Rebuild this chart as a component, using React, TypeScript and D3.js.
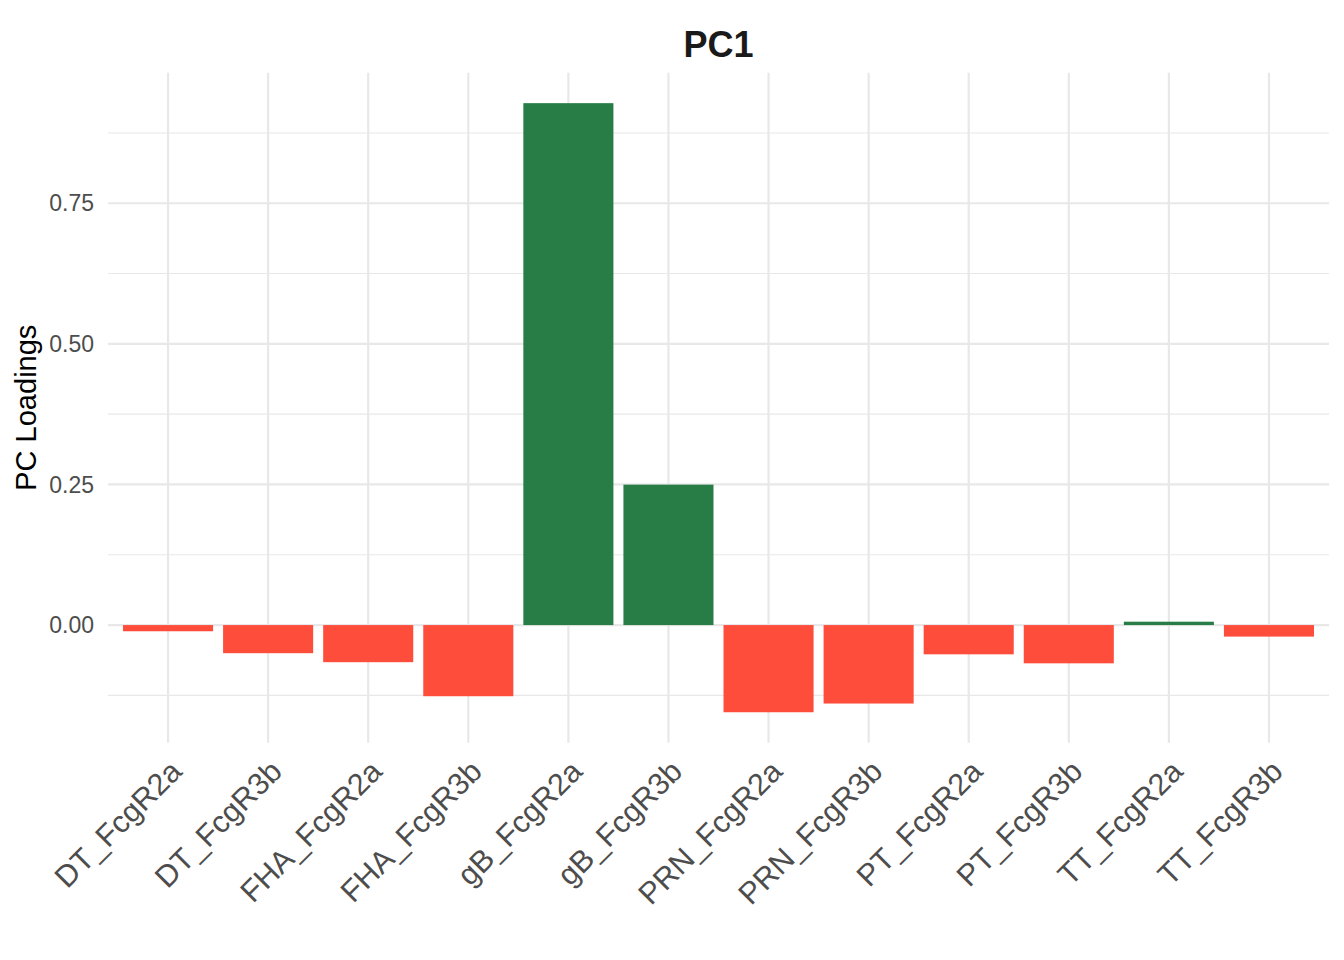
import * as d3 from "d3";
import { useEffect, useRef } from "react";

const categories = [
  "DT_FcgR2a", "DT_FcgR3b", "FHA_FcgR2a", "FHA_FcgR3b", "gB_FcgR2a", "gB_FcgR3b",
  "PRN_FcgR2a", "PRN_FcgR3b", "PT_FcgR2a", "PT_FcgR3b", "TT_FcgR2a", "TT_FcgR3b",
];
const loadings = [-0.011, -0.05, -0.066, -0.1265, 0.928, 0.2497, -0.155, -0.1395, -0.052, -0.068, 0.006, -0.0205];
const majorTicks = [0, 0.25, 0.5, 0.75];
const minorTicks = [-0.125, 0.125, 0.375, 0.625, 0.875];

const width = 1344;
const height = 960;
const margin = { top: 72.7, right: 15, bottom: 217.3, left: 108 };

export default function App() {
  const svgRef = useRef<SVGSVGElement>(null);

  useEffect(() => {
    if (!svgRef.current) return;
    const svg = d3.select(svgRef.current);
    svg.selectAll("*").remove();

    const left = margin.left;
    const right = width - margin.right;
    const top = margin.top;
    const bottom = height - margin.bottom;

    // discrete axis with ggplot-like 0.6 expansion
    const n = categories.length;
    const step = (right - left) / (n - 1 + 1.2);
    const x = (i: number) => left + step * (0.6 + i);
    const barW = step * 0.9;

    const [lo, hi] = d3.extent(loadings) as [number, number];
    const pad = (hi - lo) * 0.05;
    const y = d3.scaleLinear().domain([lo - pad, hi + pad]).range([bottom, top]);

    const g = svg.append("g");

    // grid
    g.selectAll("line.minor")
      .data(minorTicks)
      .enter()
      .append("line")
      .attr("x1", left).attr("x2", right)
      .attr("y1", d => y(d)).attr("y2", d => y(d))
      .attr("stroke", "#e8e8e8").attr("stroke-width", 1.1);
    g.selectAll("line.major")
      .data(majorTicks)
      .enter()
      .append("line")
      .attr("x1", left).attr("x2", right)
      .attr("y1", d => y(d)).attr("y2", d => y(d))
      .attr("stroke", "#e8e8e8").attr("stroke-width", 2.2);
    g.selectAll("line.vert")
      .data(categories)
      .enter()
      .append("line")
      .attr("x1", (_, i) => x(i)).attr("x2", (_, i) => x(i))
      .attr("y1", top).attr("y2", bottom)
      .attr("stroke", "#e8e8e8").attr("stroke-width", 2.2);

    // bars
    g.selectAll("rect")
      .data(loadings)
      .enter()
      .append("rect")
      .attr("x", (_, i) => x(i) - barW / 2)
      .attr("width", barW)
      .attr("y", d => y(Math.max(0, d)))
      .attr("height", d => Math.abs(y(d) - y(0)))
      .attr("fill", d => (d >= 0 ? "#287d47" : "#ff4d3b"));

    // y tick labels
    g.selectAll("text.ytick")
      .data(majorTicks)
      .enter()
      .append("text")
      .attr("x", left - 14)
      .attr("y", d => y(d))
      .attr("dy", "0.35em")
      .attr("text-anchor", "end")
      .attr("font-size", 23)
      .attr("fill", "#4d4d4d")
      .text(d => d3.format(".2f")(d));

    // x tick labels
    g.selectAll("text.xtick")
      .data(categories)
      .enter()
      .append("text")
      .attr("transform", (_, i) => `translate(${x(i)},${bottom + 15}) rotate(-45)`)
      .attr("dy", "0.72em")
      .attr("text-anchor", "end")
      .attr("font-size", 30.5)
      .attr("fill", "#4d4d4d")
      .text(d => d);

    // axis title
    svg.append("text")
      .attr("transform", `translate(36,${(top + bottom) / 2}) rotate(-90)`)
      .attr("text-anchor", "middle")
      .attr("font-size", 29)
      .attr("fill", "#000")
      .text("PC Loadings");

    // title
    svg.append("text")
      .attr("x", (left + right) / 2)
      .attr("y", 56.5)
      .attr("text-anchor", "middle")
      .attr("font-size", 36)
      .attr("font-weight", "bold")
      .attr("fill", "#1a1a1a")
      .text("PC1");
  }, []);

  return (
    <svg
      ref={svgRef}
      width={width}
      height={height}
      style={{ position: "absolute", left: 0, top: 0, fontFamily: "'Liberation Sans', Arial, sans-serif", background: "#fff" }}
    />
  );
}
